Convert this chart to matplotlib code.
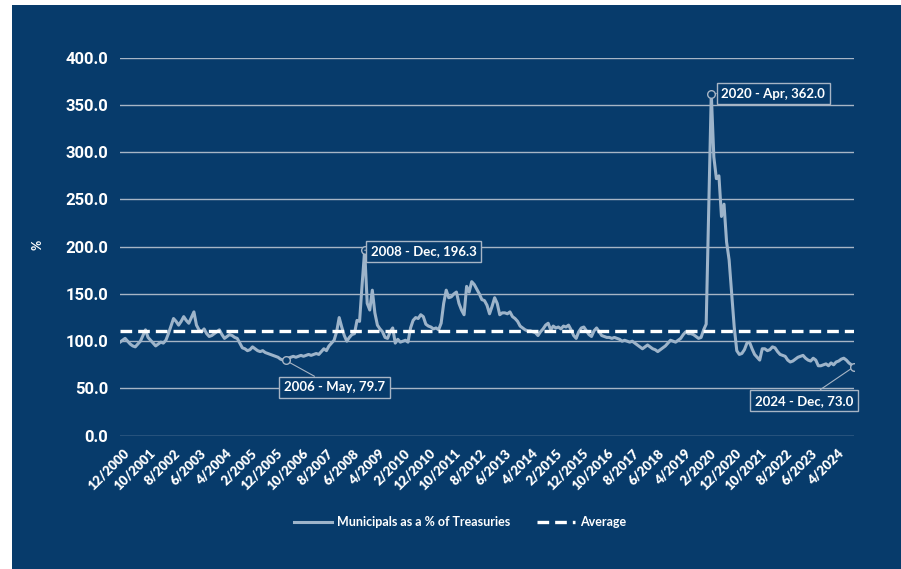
import numpy as np
import matplotlib
matplotlib.use('Agg')
import matplotlib.pyplot as plt
from matplotlib.patches import Rectangle
from matplotlib.transforms import ScaledTranslation

# monthly series 12/2000 .. 12/2024
muni_pct = [
    99, 101, 103, 100, 97, 95, 94, 97, 100, 106, 112, 104,
    101, 98, 95, 97, 99, 98, 101, 108, 116, 124, 121, 117,
    121, 126, 122, 119, 125, 131, 117, 112, 110, 113, 108, 105,
    106, 108, 110, 112, 107, 103, 105, 107, 106, 104, 103, 98,
    93, 92, 90, 91, 94, 92, 90, 89, 90, 88, 87, 86,
    85, 84, 83, 81, 80, 79.7, 82, 83, 84, 83, 84, 85,
    84, 85, 86, 85, 86, 87, 86, 89, 92, 90, 95, 98,
    101, 110, 125, 115, 106, 100, 104, 107, 108, 122, 121, 160,
    196.3, 140, 133, 154, 130, 117, 113, 110, 104, 103, 110, 114,
    98, 102, 99, 100, 101, 99, 114, 122, 125, 124, 128, 126,
    118, 116, 115, 113, 114, 112, 119, 140, 154, 146, 147, 150,
    152, 140, 133, 128, 158, 152, 163, 160, 155, 150, 144, 143,
    138, 129, 137, 146, 140, 128, 130, 130, 129, 131, 126, 124,
    121, 116, 114, 112, 111, 111, 110, 109, 106, 110, 113, 117,
    119, 112, 116, 114, 115, 113, 116, 115, 117, 112, 106, 103,
    110, 114, 115, 111, 107, 105, 111, 114, 110, 106, 105, 104,
    104, 103, 104, 103, 102, 100, 101, 100, 99, 100, 98, 96,
    94, 92, 94, 96, 94, 92, 91, 89, 91, 93, 95, 98,
    101, 100, 99, 101, 103, 107, 110, 108, 108, 107, 105, 103,
    104, 112, 118, 240, 362.0, 295, 272, 275, 232, 245, 205, 186,
    150, 115, 90, 86, 87, 91, 98, 99, 92, 86, 83, 80,
    92, 92, 90, 91, 94, 93, 89, 86, 85, 84, 80, 78,
    79, 81, 83, 84, 85, 82, 80, 79, 82, 80, 74, 74,
    75, 76, 74, 77, 75, 78, 79, 81, 82, 80, 77, 75, 73.0,
]
average = 110.5

tick_labels = ['12/2000', '10/2001', '8/2002', '6/2003', '4/2004', '2/2005', '12/2005',
               '10/2006', '8/2007', '6/2008', '4/2009', '2/2010', '12/2010', '10/2011',
               '8/2012', '6/2013', '4/2014', '2/2015', '12/2015', '10/2016', '8/2017',
               '6/2018', '4/2019', '2/2020', '12/2020', '10/2021', '8/2022', '6/2023', '4/2024']

# highlighted points: (index, label, text offset in pixels)
callouts = [(65, '2006 - May, 79.7', (49, -27)),
            (96, '2008 - Dec, 196.3', (59, -1)),
            (232, '2020 - Apr, 362.0', (62, 0)),
            (288, '2024 - Dec, 73.0', (-50, -34))]

BLUE = '#073b6b'
LINE = '#9db4ca'
GRID = '#a7b5c5'

x = np.arange(len(muni_pct))

fig = plt.figure(figsize=(9.01, 5.69), dpi=100)
fig.patch.set_facecolor('white')
fig.patches.append(Rectangle((12/901, 0), 1 - 12/901, 1 - 5/569, transform=fig.transFigure,
                             fc=BLUE, ec='none', zorder=-10))

ax = fig.add_axes([120/901, 1 - 435.7/569, 734/901, 378/569])
ax.set_facecolor('none')
for side in ax.spines.keys(): ax.spines[side].set_visible(False)

ax.set_ylim(0, 400)
ax.set_xlim(0, len(muni_pct) - 1)
ax.set_yticks(np.arange(0, 401, 50))
ax.set_yticklabels(['%.1f' % v for v in np.arange(0, 401, 50)],
                   family='Roboto', fontweight='bold', fontsize=12, color='white')
ax.yaxis.grid(True, color=GRID, lw=1.0)
ax.set_axisbelow(True)
ax.tick_params(axis='y', length=0, pad=8.6)

ax.set_xticks(np.arange(0, len(tick_labels) * 10, 10))
ax.set_xticklabels(tick_labels, rotation=45, ha='right', va='top', rotation_mode='anchor',
                   family='Lato', fontweight='heavy', fontsize=9.5, color='white')
ax.tick_params(axis='x', length=0, pad=8)
for lab in ax.get_xticklabels():
    lab.set_transform(lab.get_transform() + ScaledTranslation(3/100, 0, fig.dpi_scale_trans))

ax.plot(x, muni_pct, color=LINE, lw=2.2, solid_joinstyle='round',
        label='Municipals as a % of Treasuries', zorder=3)
ax.axhline(average, color='white', lw=2.4, ls=(0, (3.5, 1.8)), label='Average', zorder=4)

for idx, txt, off in callouts:
    ax.plot(x[idx], muni_pct[idx], 'o', ms=5.5, mfc=BLUE, mec=GRID, mew=1.0, zorder=6)
    ax.annotate(txt, xy=(x[idx], muni_pct[idx]), xytext=off, textcoords='offset pixels',
                ha='center', va='center', family='Lato', fontweight='bold', fontsize=9.5,
                color='white', zorder=7,
                bbox=dict(boxstyle='square,pad=0.35', fc=BLUE, ec=GRID, lw=1.0),
                arrowprops=dict(arrowstyle='-', color=GRID, lw=0.8, shrinkA=0, shrinkB=3))

fig.text(38/901, 1 - 245/569, '%', rotation=90, ha='center', va='center',
         family='Lato', fontweight='bold', fontsize=9, color='white')

leg = ax.legend(loc='center', bbox_to_anchor=(460/901, 1 - 522/569),
                bbox_transform=fig.transFigure, ncol=2, frameon=False,
                prop={'family': 'Lato', 'weight': 'bold', 'size': 9},
                handlelength=3.0, handletextpad=0.4, columnspacing=2.2)
for t in leg.get_texts(): t.set_color('white')

fig.savefig('out.png', dpi=100, facecolor=fig.get_facecolor())
